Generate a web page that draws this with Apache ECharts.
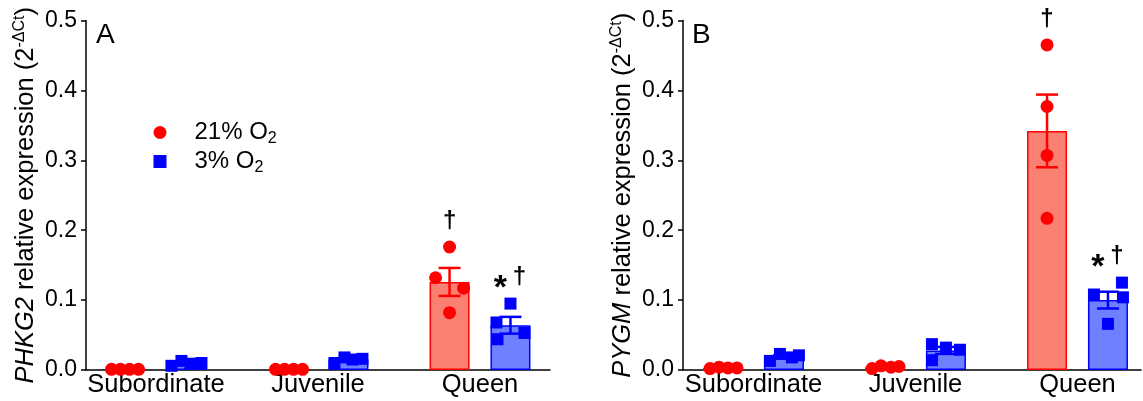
<!DOCTYPE html>
<html>
<head>
<meta charset="utf-8">
<script src="https://cdn.jsdelivr.net/npm/echarts@6/dist/echarts.min.js"></script>
<style>
  html, body { margin: 0; padding: 0; background: #fff; }
  #chart { width: 1143px; height: 401px; }
</style>
</head>
<body>
<div id="chart"></div>
<script>
// Groups on the x axis
const groups = ['Subordinate', 'Juvenile', 'Queen'];

// Y axis scale (relative expression, 2^-ΔCt)
const yMin = 0;
const yMax = 0.5;
const yStep = 0.1;

// Panel A: PHKG2, individual samples per group, plus mean and SEM
const phkg2Normoxia = [[0.001, 0.001, 0.001, 0.001], [0.001, 0.001, 0.001, 0.001], [0.176, 0.132, 0.117, 0.082]];
const phkg2NormoxiaMean = [0.001, 0.001, 0.126];
const phkg2NormoxiaSem = [0.0002, 0.0002, 0.020];
const phkg2Hypoxia = [[0.006, 0.013, 0.009, 0.010], [0.010, 0.018, 0.015, 0.016], [0.095, 0.068, 0.044, 0.053]];
const phkg2HypoxiaMean = [0.010, 0.015, 0.064];
const phkg2HypoxiaSem = [0.0015, 0.002, 0.012];
const phkg2NormoxiaMarks = ['', '', '†'];
const phkg2HypoxiaMarks = ['', '', '*†'];

// Panel B: PYGM
const pygmNormoxia = [[0.002, 0.004, 0.003, 0.003], [0.002, 0.006, 0.004, 0.005], [0.465, 0.377, 0.307, 0.217]];
const pygmNormoxiaMean = [0.003, 0.004, 0.342];
const pygmNormoxiaSem = [0.0005, 0.001, 0.052];
const pygmHypoxia = [[0.013, 0.023, 0.018, 0.021], [0.037, 0.032, 0.029, 0.014], [0.108, 0.125, 0.104, 0.066]];
const pygmHypoxiaMean = [0.019, 0.028, 0.100];
const pygmHypoxiaSem = [0.002, 0.005, 0.012];
const pygmNormoxiaMarks = ['', '', '†'];
const pygmHypoxiaMarks = ['', '', '*†'];

// Legend names
const normoxiaName = '21% O2';
const hypoxiaName = '3% O2';

// ---- layout and styling ----
const FONT = 'Liberation Sans, Arial, sans-serif';
const RED = '#FF0000';
const RED_FILL = '#FA8072';
const BLUE = '#0000FF';
const BLUE_FILL = '#6E80FF';
const BAR_SHIFT = 0.188;          // half distance between paired bars, in group units
// horizontal scatter of the points (pixels) so they do not overlap
const swarm = {
  A: {
    n: [[-14, -5, 4, 13], [-12, -3, 6, 15], [0, -14, 14, 0]],
    h: [[-15, -5, 4, 15], [-14, -4, 4, 14], [0, -14, -13, 14]]
  },
  B: {
    n: [[-13, -4, 5, 14], [-13, -4, 6, 14], [0, 0, 0, 0]],
    h: [[-14, -4, 8, 15], [-14, 0, 14, -14], [-14, 14, 15, 0]]
  }
};

function barData(nMean, hMean) {
  const out = [];
  groups.forEach((g, i) => {
    out.push({ value: [i - BAR_SHIFT, nMean[i]], itemStyle: { color: RED_FILL, borderColor: RED, borderWidth: 1.5 } });
    out.push({ value: [i + BAR_SHIFT, hMean[i]], itemStyle: { color: BLUE_FILL, borderColor: BLUE, borderWidth: 1.5 } });
  });
  return out;
}

function errData(nMean, nSem, hMean, hSem) {
  const out = [];
  groups.forEach((g, i) => {
    out.push([i - BAR_SHIFT, nMean[i], nSem[i], 0]);
    out.push([i + BAR_SHIFT, hMean[i], hSem[i], 1]);
  });
  return out;
}

function pointData(samples, shift, offsets) {
  const out = [];
  samples.forEach((vals, i) => {
    vals.forEach((v, k) => {
      out.push({ value: [i + shift, v], symbolOffset: [offsets[i][k], 0] });
    });
  });
  return out;
}

function markData(samples, shift, marks) {
  const out = [];
  samples.forEach((vals, i) => {
    if (marks[i]) out.push({ value: [i + shift, Math.max.apply(null, vals)], mark: marks[i] });
  });
  return out;
}

function renderErr(params, api) {
  const x = api.value(0), m = api.value(1), s = api.value(2);
  const color = api.value(3) === 0 ? RED : BLUE;
  const top = api.coord([x, m + s]);
  const bot = api.coord([x, m - s]);
  const hw = 11;
  const st = { stroke: color, lineWidth: 2.5 };
  return {
    type: 'group',
    children: [
      { type: 'line', shape: { x1: top[0], y1: top[1], x2: bot[0], y2: bot[1] }, style: st },
      { type: 'line', shape: { x1: top[0] - hw, y1: top[1], x2: top[0] + hw, y2: top[1] }, style: st },
      { type: 'line', shape: { x1: bot[0] - hw, y1: bot[1], x2: bot[0] + hw, y2: bot[1] }, style: st }
    ]
  };
}

function makeMarkRenderer(data) {
  return function (params, api) {
    const item = data[params.dataIndex];
    const p = api.coord([api.value(0), api.value(1)]);
    const y = p[1] - 26;
    const dagger = '†';
    const children = [];
    if (item.mark.indexOf('*') >= 0) {
      children.push({ type: 'text', x: p[0] - 10, y: y + 11,
        style: { text: '*', font: 'bold 34px ' + FONT, fill: '#000', align: 'center', verticalAlign: 'middle' } });
      children.push({ type: 'text', x: p[0] + 9, y: y,
        style: { text: dagger, font: 'bold 24px ' + FONT, fill: '#000', align: 'center', verticalAlign: 'middle' } });
    } else {
      children.push({ type: 'text', x: p[0], y: y,
        style: { text: dagger, font: 'bold 24px ' + FONT, fill: '#000', align: 'center', verticalAlign: 'middle' } });
    }
    return { type: 'group', children: children };
  };
}

function panelSeries(idx, key, nPts, nMean, nSem, nMarks, hPts, hMean, hSem, hMarks) {
  const ax = { xAxisIndex: idx, yAxisIndex: idx };
  const nMarkData = markData(nPts, -BAR_SHIFT, nMarks);
  const hMarkData = markData(hPts, BAR_SHIFT, hMarks);
  return [
    Object.assign({ type: 'bar', barWidth: 40, z: 1, silent: true, data: barData(nMean, hMean) }, ax),
    Object.assign({ type: 'custom', z: 2, silent: true, renderItem: renderErr,
      data: errData(nMean, nSem, hMean, hSem) }, ax),
    Object.assign({ type: 'scatter', name: normoxiaName, symbol: 'circle', symbolSize: 13, z: 3,
      itemStyle: { color: RED, opacity: 1 }, data: pointData(nPts, -BAR_SHIFT, swarm[key].n) }, ax),
    Object.assign({ type: 'scatter', name: hypoxiaName, symbol: 'rect', symbolSize: 12, z: 3,
      itemStyle: { color: BLUE, opacity: 1 }, data: pointData(hPts, BAR_SHIFT, swarm[key].h) }, ax),
    Object.assign({ type: 'custom', z: 4, silent: true, renderItem: makeMarkRenderer(nMarkData),
      data: nMarkData }, ax),
    Object.assign({ type: 'custom', z: 4, silent: true, renderItem: makeMarkRenderer(hMarkData),
      data: hMarkData }, ax)
  ];
}

function xAxisFor(idx, min, max) {
  return {
    type: 'value', gridIndex: idx, min: min, max: max,
    splitLine: { show: false },
    axisLine: { show: true, onZero: false, lineStyle: { color: '#000', width: 1.5 } },
    axisTick: { show: false },
    axisLabel: {
      customValues: [0, 1, 2],
      formatter: v => groups[Math.round(v)],
      fontFamily: FONT, fontSize: 25.5, color: '#000', margin: 2
    }
  };
}

function yAxisFor(idx, gene, gap) {
  return {
    type: 'value', gridIndex: idx, min: yMin, max: yMax, interval: yStep,
    splitLine: { show: false },
    axisLine: { show: true, onZero: false, lineStyle: { color: '#000', width: 1.5 } },
    axisTick: { show: true, length: 5, lineStyle: { color: '#000', width: 1.5 } },
    axisLabel: { formatter: v => v.toFixed(1), fontFamily: FONT, fontSize: 23, color: '#000', margin: 9 },
    name: '{i|' + gene + '} relative expression (2{sup|-ΔCt})',
    nameLocation: 'middle',
    nameGap: gap,
    nameTextStyle: {
      fontFamily: FONT, fontSize: 25.5, color: '#000', lineHeight: 30,
      rich: {
        i: { fontFamily: FONT, fontSize: 25.5, fontStyle: 'italic', color: '#000', lineHeight: 30 },
        sup: { fontFamily: FONT, fontSize: 16, color: '#000', lineHeight: 16, verticalAlign: 'top' }
      }
    }
  };
}

const chart = echarts.init(document.getElementById('chart'), null, { renderer: 'canvas' });

chart.setOption({
  animation: false,
  backgroundColor: '#fff',
  textStyle: { fontFamily: FONT },
  title: [
    { text: 'A', left: 96, top: 21, padding: 0, textStyle: { fontFamily: FONT, fontSize: 28, fontWeight: 'normal', color: '#000' } },
    { text: 'B', left: 692, top: 21, padding: 0, textStyle: { fontFamily: FONT, fontSize: 28, fontWeight: 'normal', color: '#000' } }
  ],
  legend: {
    data: [normoxiaName, hypoxiaName],
    orient: 'vertical',
    left: 153.5, top: 120.5,
    itemWidth: 13, itemHeight: 13, itemGap: 3,
    padding: 0,
    selectedMode: false,
    formatter: name => '{t|' + name.slice(0, -1) + '}{s|' + name.slice(-1) + '}',
    textStyle: {
      fontFamily: FONT, color: '#000',
      rich: {
        t: { fontFamily: FONT, fontSize: 24, color: '#000', lineHeight: 28, padding: [0, 0, 0, 23] },
        s: { fontFamily: FONT, fontSize: 16, color: '#000', lineHeight: 14, verticalAlign: 'bottom' }
      }
    }
  },
  grid: [
    { left: 86, right: 593, top: 20.5, bottom: 31, outerBoundsMode: 'none' },
    { left: 683, right: 2, top: 20.5, bottom: 31, outerBoundsMode: 'none' }
  ],
  xAxis: [xAxisFor(0, -0.432, 2.432), xAxisFor(1, -0.435, 2.392)],
  yAxis: [yAxisFor(0, 'PHKG2', 43), yAxisFor(1, 'PYGM', 40)],
  series: [].concat(
    panelSeries(0, 'A', phkg2Normoxia, phkg2NormoxiaMean, phkg2NormoxiaSem, phkg2NormoxiaMarks,
      phkg2Hypoxia, phkg2HypoxiaMean, phkg2HypoxiaSem, phkg2HypoxiaMarks),
    panelSeries(1, 'B', pygmNormoxia, pygmNormoxiaMean, pygmNormoxiaSem, pygmNormoxiaMarks,
      pygmHypoxia, pygmHypoxiaMean, pygmHypoxiaSem, pygmHypoxiaMarks)
  )
});
</script>
</body>
</html>
